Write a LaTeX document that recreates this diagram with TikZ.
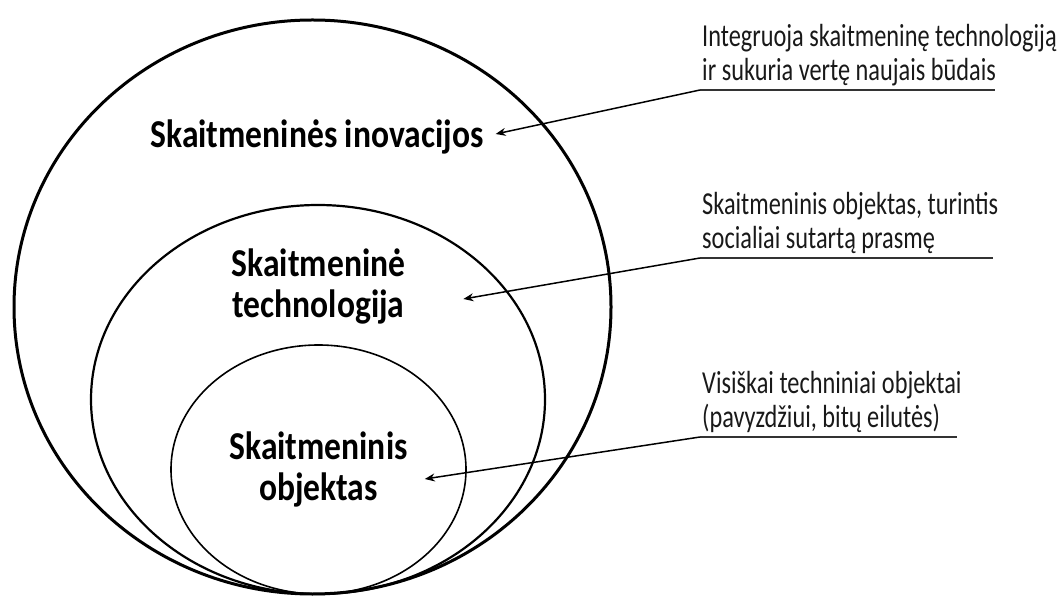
\documentclass[tikz,border=0pt]{standalone}
\usepackage{fontspec}
\setmainfont{Carlito}[FakeStretch=0.76]
\newfontfamily\titlefont{Carlito}[FakeStretch=0.85]
\usetikzlibrary{shapes.geometric,positioning,arrows.meta}

\begin{document}
\begin{tikzpicture}[x=1pt, y=1pt,
	ring/.style={draw, ellipse, inner sep=0pt},
	title/.style={font=\titlefont\bfseries\fontsize{39.5}{41}\selectfont, align=center, inner sep=0pt},
	note/.style={font=\fontsize{32}{34}\selectfont, align=left, inner sep=0pt, text=black!90},
	uline/.style={line width=1.6pt, black!80},
	pointer/.style={-{Stealth[length=10pt, width=8pt]}, line width=1.5pt}]
		\useasboundingbox (0,0) rectangle (1062,597);
		
		\node[ring, line width=3pt, minimum width=597pt, minimum height=574pt] (outer) at (312.5,290) {};
		\node[ring, line width=2.2pt, minimum width=454pt, minimum height=389pt] (middle) at (318,197.5) {};
		\node[ring, line width=1.6pt, minimum width=295pt, minimum height=249pt] (inner) at (318.5,127.5) {};
		
		\node[title] (innov) at (317,460) {Skaitmeninės inovacijos};
		\node[title] (tech) at (318.5,311) {Skaitmeninė\\technologija};
		\node[title] (obj) at (318.5,128) {Skaitmeninis\\objektas};
		
		\coordinate (u1) at (700,507);
		\coordinate (u2) at (700,339);
		\coordinate (u3) at (700,160);
		
		\node[note, above right=4pt and 2pt of u1] (n1) {Integruoja skaitmeninę technologiją\\ir sukuria vertę naujais būdais};
		\node[note, above right=4pt and 2pt of u2] (n2) {Skaitmeninis objektas, turintis\\socialiai sutartą prasmę};
		\node[note, above right=4pt and 2pt of u3] (n3) {Visiškai techniniai objektai\\(pavyzdžiui, bitų eilutės)};
		
		\draw[uline] (u1) -- ++(295,0);
		\draw[uline] (u2) -- ++(293,0);
		\draw[uline] (u3) -- ++(257,0);
		
		\draw[pointer] (u1) -- ([xshift=12pt,yshift=3pt]innov.east);
		\draw[pointer] (u2) -- ([xshift=58pt,yshift=-13pt]tech.east);
		\draw[pointer] (u3) -- ([xshift=17pt,yshift=-10pt]obj.east);
		
	\end{tikzpicture}
\end{document}
